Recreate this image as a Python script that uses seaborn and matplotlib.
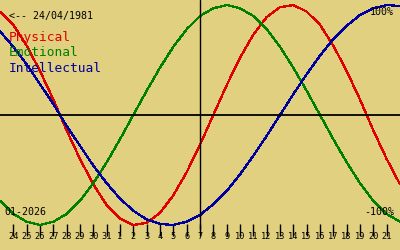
import matplotlib
matplotlib.use("Agg")
import matplotlib.pyplot as plt
import seaborn as sns
import pandas as pd

# Day index 0 = 23 Dec 2025 ... 30 = 22 Jan 2026
day_index = list(range(31))
physical = [0.94, 0.82, 0.63, 0.40, 0.14, -0.14, -0.40, -0.63, -0.82, -0.94, -1.00, -0.98,
            -0.89, -0.73, -0.52, -0.27, 0.00, 0.27, 0.52, 0.73, 0.89, 0.98, 1.00, 0.94,
            0.82, 0.63, 0.40, 0.14, -0.14, -0.40, -0.63]
emotional = [-0.78, -0.90, -0.97, -1.00, -0.97, -0.90, -0.78, -0.62, -0.43, -0.22, 0.00,
             0.22, 0.43, 0.62, 0.78, 0.90, 0.97, 1.00, 0.97, 0.90, 0.78, 0.62, 0.43, 0.22,
             0.00, -0.22, -0.43, -0.62, -0.78, -0.90, -0.97]
intellectual = [0.76, 0.62, 0.46, 0.28, 0.10, -0.10, -0.28, -0.46, -0.62, -0.76, -0.87,
                -0.95, -0.99, -1.00, -0.97, -0.91, -0.81, -0.69, -0.54, -0.37, -0.19, 0.00,
                0.19, 0.37, 0.54, 0.69, 0.81, 0.91, 0.97, 1.00, 0.99]
tick_days = list(range(1, 30))
tick_labels = ["24", "25", "26", "27", "28", "29", "30", "31", "1", "2", "3", "4", "5",
               "6", "7", "8", "9", "10", "11", "12", "13", "14", "15", "16", "17", "18",
               "19", "20", "21"]
today_index = 15
series_names = ["Physical", "Emotional", "Intellectual"]
birth_label = "<-- 24/04/1981"
month_label = "01-2026"

BG = "#e0d080"
colors = {"Physical": "#e00000", "Emotional": "#008000", "Intellectual": "#0000a0"}

df = pd.DataFrame({"day": day_index * 3,
                   "value": physical + emotional + intellectual,
                   "cycle": [n for n in series_names for _ in day_index]})

sns.set_theme(style="ticks")
plt.rcParams["font.family"] = ["DejaVu Sans Mono", "DejaVu Sans"]

fig = plt.figure(figsize=(4, 2.5), dpi=100)
fig.patch.set_facecolor(BG)
ax = fig.add_axes([0, 20 / 250, 1, 230 / 250])
ax.set_facecolor(BG)

sns.lineplot(data=df, x="day", y="value", hue="cycle", palette=colors, ax=ax,
             legend=False, linewidth=0.9, estimator=None, sort=False)
for l in ax.get_lines():
    l.set_antialiased(False)

ax.axhline(0, color="black", lw=1.3)
ax.axvline(today_index, color="black", lw=1.0)

ax.set_xlim(0, 30)
ax.set_ylim(-115 / 110, 115 / 110)
ax.set_xticks(tick_days)
ax.set_xticklabels(tick_labels, fontsize=6.2)
ax.set_yticks([])
ax.spines[["top", "left", "right", "bottom"]].set_visible(False)
ax.set_xlabel("")
ax.set_ylabel("")
ax.tick_params(axis="x", which="major", direction="inout", length=8, width=1.0,
               color="black", pad=-2.5, bottom=True, top=False, labelbottom=True,
               labelcolor="black")


def px(x, y):
    return fig.transFigure.inverted().transform((x, 250 - y))


for name, yy in zip(series_names, [38, 53, 68]):
    fig.text(*px(9, yy), name, color=colors[name], fontsize=9.3, va="center", ha="left")
fig.text(*px(9, 16), birth_label, fontsize=7.2, color="black", va="center", ha="left")
fig.text(*px(394, 12), "100%", fontsize=7.2, color="black", va="center", ha="right")
fig.text(*px(394, 212), "-100%", fontsize=7.2, color="black", va="center", ha="right")
fig.text(*px(4, 212), month_label, fontsize=7.2, color="black", va="center", ha="left")

fig.savefig("out.png", dpi=100, facecolor=BG)
